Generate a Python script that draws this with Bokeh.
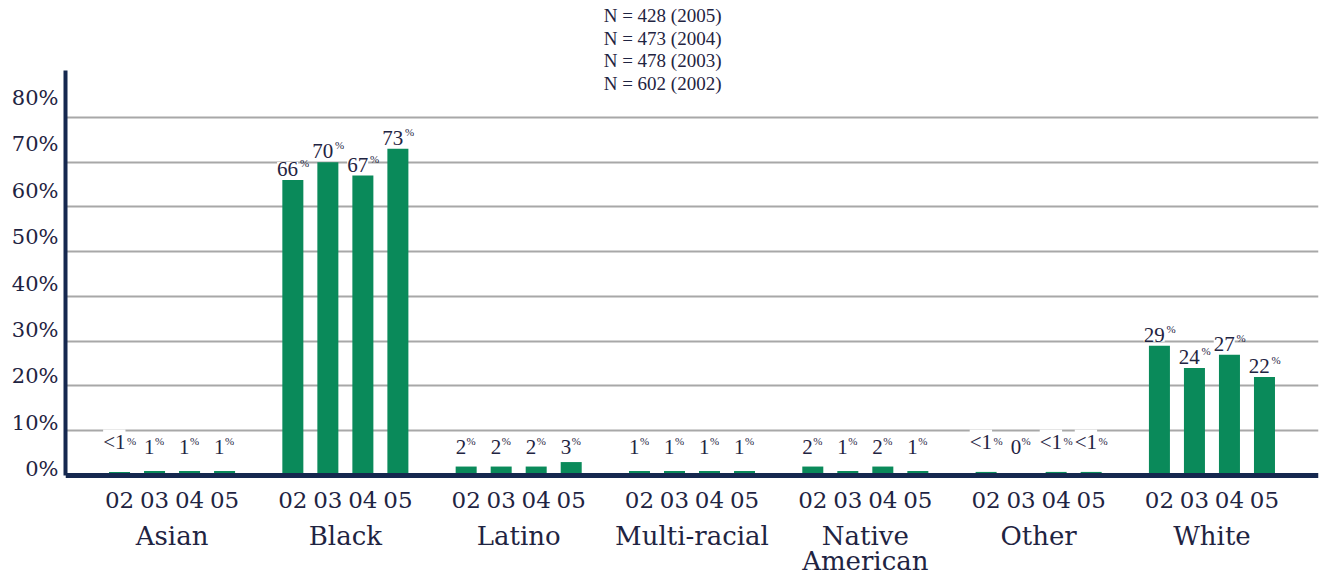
from bokeh.plotting import figure
from bokeh.models import (FactorRange, ColumnDataSource, LabelSet, FixedTicker, Range1d,
                          LinearAxis, Grid)
from bokeh.embed import file_html
from bokeh.resources import INLINE

# ---------------- data ----------------
categories = ["Asian", "Black", "Latino", "Multi-racial", "Native\nAmerican", "Other", "White"]
years = ["02", "03", "04", "05"]

asian = [0.8, 1, 1, 1]
black = [66, 70, 67, 73]
latino = [2, 2, 2, 3]
multi_racial = [1, 1, 1, 1]
native_american = [2, 1, 2, 1]
other = [0.8, 0, 0.8, 0.8]
white = [29, 24, 27, 22]

asian_labels = ["<1", "1", "1", "1"]
black_labels = ["66", "70", "67", "73"]
latino_labels = ["2", "2", "2", "3"]
multi_racial_labels = ["1", "1", "1", "1"]
native_american_labels = ["2", "1", "2", "1"]
other_labels = ["<1", "0", "<1", "<1"]
white_labels = ["29", "24", "27", "22"]

y_ticks = [0, 10, 20, 30, 40, 50, 60, 70, 80]
y_tick_labels = ["0%", "10%", "20%", "30%", "40%", "50%", "60%", "70%", "80%"]
n_lines = ["N = 428 (2005)", "N = 473 (2004)", "N = 478 (2003)", "N = 602 (2002)"]

# ---------------- styling ----------------
FONT = "DejaVu Serif"
NAVY = "#15284f"
TEXT = "#1f2442"
GREEN = "#0a8a5a"
GRID = "#a8a8a8"

W, H = 1326, 576
PX_PER_PCT = 4.476          # vertical scale (pixels per percentage point)
BASE_PX = 475               # pixel row of the 0 % baseline
AXIS_LEFT = 65
RIGHT_BORDER = 8
X_PAD = 1.043

series = [asian, black, latino, multi_racial, native_american, other, white]
series_labels = [asian_labels, black_labels, latino_labels, multi_racial_labels,
                 native_american_labels, other_labels, white_labels]

factors, tops, nums = [], [], []
for cat, vals, labs in zip(categories, series, series_labels):
    for yr, v, l in zip(years, vals, labs):
        factors.append((cat, yr))
        tops.append(v)
        nums.append(l)

# label placement (derived from values / text widths)
NUM_SIZE = 21
PCT_SIZE = 11
char_w = {"<": 0.66}
def text_width(s):
    return sum(char_w.get(c, 0.636) for c in s) * NUM_SIZE

pct_w = 0.95 * PCT_SIZE
label_y = [max(v, 4) for v in tops]
num_xoff = [-pct_w / 2 for _ in nums]
pct_xoff = [-pct_w / 2 + text_width(s) / 2 - 1 for s in nums]

src = ColumnDataSource(dict(x=factors, top=tops, ly=label_y, num=nums,
                            pct=["%"] * len(nums), nxo=num_xoff, pxo=pct_xoff))

x_range = FactorRange(*factors, factor_padding=0.0, group_padding=0.95,
                      range_padding=X_PAD, range_padding_units="absolute")
y_start = -(H - BASE_PX) / PX_PER_PCT
y_end = BASE_PX / PX_PER_PCT
p = figure(x_range=x_range, y_range=Range1d(y_start, y_end), width=W, height=H,
           output_backend="svg", toolbar_location=None, y_axis_location=None,
           min_border_left=AXIS_LEFT, min_border_right=RIGHT_BORDER,
           min_border_top=0, min_border_bottom=0)
p.outline_line_color = None
p.background_fill_color = "white"
p.border_fill_color = "white"
p.xgrid.grid_line_color = None
p.ygrid.grid_line_color = None

# tick-label range: labels sit a little above their gridlines
LAB_PX = 4.6375
LAB_BASE = 468.5
p.extra_y_ranges = {"lab": Range1d(-(H - LAB_BASE) / LAB_PX, LAB_BASE / LAB_PX)}

# grid
grid = Grid(dimension=1, ticker=FixedTicker(ticks=y_ticks[1:]),
            grid_line_color=GRID, grid_line_width=1.8)
p.add_layout(grid, "center")

# bars
p.vbar(x="x", top="top", width=0.6, source=src, fill_color=GREEN, line_color=None)

# value labels (number + superscript %)
num_labels = LabelSet(x="x", y="ly", text="num", source=src, x_offset="nxo", y_offset=4,
                      text_align="center", text_baseline="bottom",
                      text_font=FONT, text_font_size=f"{NUM_SIZE}px", text_color=TEXT,
                      background_fill_color="white", level="underlay")
pct_labels = LabelSet(x="x", y="ly", text="pct", source=src, x_offset="pxo", y_offset=11,
                      text_align="left", text_baseline="bottom",
                      text_font=FONT, text_font_size=f"{PCT_SIZE}px", text_color=TEXT,
                      level="underlay")
p.add_layout(num_labels)
p.add_layout(pct_labels)

# x axis (nested categorical) fixed on the 0 % baseline
xa = p.xaxis[0]
xa.fixed_location = 0
xa.axis_line_color = NAVY
xa.axis_line_width = 5
xa.major_tick_line_color = None
xa.minor_tick_line_color = None
xa.major_label_standoff = 10
xa.major_label_text_font = FONT
xa.major_label_text_font_size = "23px"
xa.major_label_text_color = TEXT
xa.group_text_font = FONT
xa.group_text_font_size = "26px"
xa.group_text_color = TEXT
xa.group_text_font_style = "normal"
xa.group_text_line_height = 0.85
xa.separator_line_color = None

# y axis
ya = LinearAxis(y_range_name="lab", ticker=FixedTicker(ticks=y_ticks),
                major_label_overrides={t: s for t, s in zip(y_ticks, y_tick_labels)},
                axis_line_color=NAVY, axis_line_width=4,
                major_tick_line_color=None, minor_tick_line_color=None,
                major_label_standoff=1, major_label_text_font=FONT,
                major_label_text_font_size="21px", major_label_text_color=TEXT)
ya.bounds = (-(BASE_PX - LAB_BASE) / LAB_PX, (LAB_BASE - 70) / LAB_PX)
p.add_layout(ya, "left")

# N annotation
n_rows = [15, 37.5, 60, 83]
n_y = [(BASE_PX - r) / PX_PER_PCT for r in n_rows]
nsrc = ColumnDataSource(dict(x=[16.01] * len(n_lines), y=n_y, t=n_lines))
p.add_layout(LabelSet(x="x", y="y", text="t", source=nsrc, text_align="center",
                      text_baseline="middle", text_font=FONT, text_font_size="19px",
                      text_color=TEXT))

open("out.html", "w").write(file_html(p, INLINE))
